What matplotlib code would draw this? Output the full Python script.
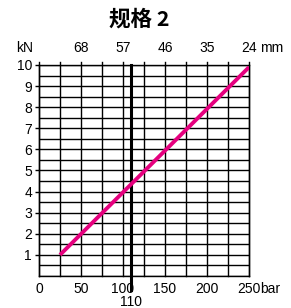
import numpy as np
import matplotlib.pyplot as plt

plt.rcParams['font.family'] = ['Liberation Sans', 'Noto Sans CJK SC', 'DejaVu Sans']

# data
pressure_bar = [25, 250]
force_kn = [1.0, 9.9]
x_ticks = [0, 50, 100, 150, 200, 250]
y_ticks = [1, 2, 3, 4, 5, 6, 7, 8, 9, 10]
top_ticks = [50, 100, 150, 200, 250]
top_labels = ["68", "57", "46", "35", "24"]
marker_bar = 110

fs = 10

fig = plt.figure(figsize=(2.91, 3.08), dpi=100)
ax = fig.add_axes([0.134, 0.104, 0.722, 0.685])

# grid: every 25 bar and every 0.5 kN
for xv in np.arange(0, 251, 25):
    ax.plot([xv, xv], [0, 10.15], color='black', lw=1.0, clip_on=False, zorder=1)
for yv in np.arange(0, 10.01, 0.5):
    ax.axhline(yv, color='black', lw=1.0, zorder=1)

# thick reference line at 110 bar
ax.plot([marker_bar, marker_bar], [-0.68, 10], color='black', lw=2.2, clip_on=False, zorder=2)

ax.plot(pressure_bar, force_kn, color='#e5007e', lw=2.8, solid_capstyle='butt', zorder=3)

ax.set_xlim(0, 250)
ax.set_ylim(0, 10)
for s in ax.spines.values():
    s.set_linewidth(1.0)

ax.set_xticks(x_ticks)
ax.set_xticklabels([str(v) for v in x_ticks])
ax.tick_params(axis='x', length=0, pad=4, labelsize=fs)
ax.set_yticks(y_ticks)
ax.tick_params(axis='y', length=3, width=1, pad=2, labelsize=fs)

top = ax.secondary_xaxis('top')
top.set_xticks(top_ticks)
top.set_xticklabels(top_labels)
top.tick_params(length=0, pad=7, labelsize=fs)
top.spines['top'].set_visible(False)

ax.annotate("bar", xy=(1, 0), xycoords='axes fraction', xytext=(8, -4),
            textcoords='offset points', fontsize=fs, ha='left', va='top')
ax.annotate("mm", xy=(1, 1), xycoords='axes fraction', xytext=(8, 7),
            textcoords='offset points', fontsize=fs, ha='left', va='bottom')
ax.annotate("kN", xy=(0, 1), xycoords='axes fraction', xytext=(-4.5, 7),
            textcoords='offset points', fontsize=fs, ha='right', va='bottom')
ax.annotate("110", xy=(marker_bar, 0), xycoords='data', xytext=(0, -13.5),
            textcoords='offset points', fontsize=fs, ha='center', va='top')

fig.text(0.48, 0.938, "规格 2", fontsize=15.5, fontweight='bold', ha='center', va='center',
         family=['Noto Sans CJK SC', 'DejaVu Sans'])

fig.savefig("out.png", dpi=100)
